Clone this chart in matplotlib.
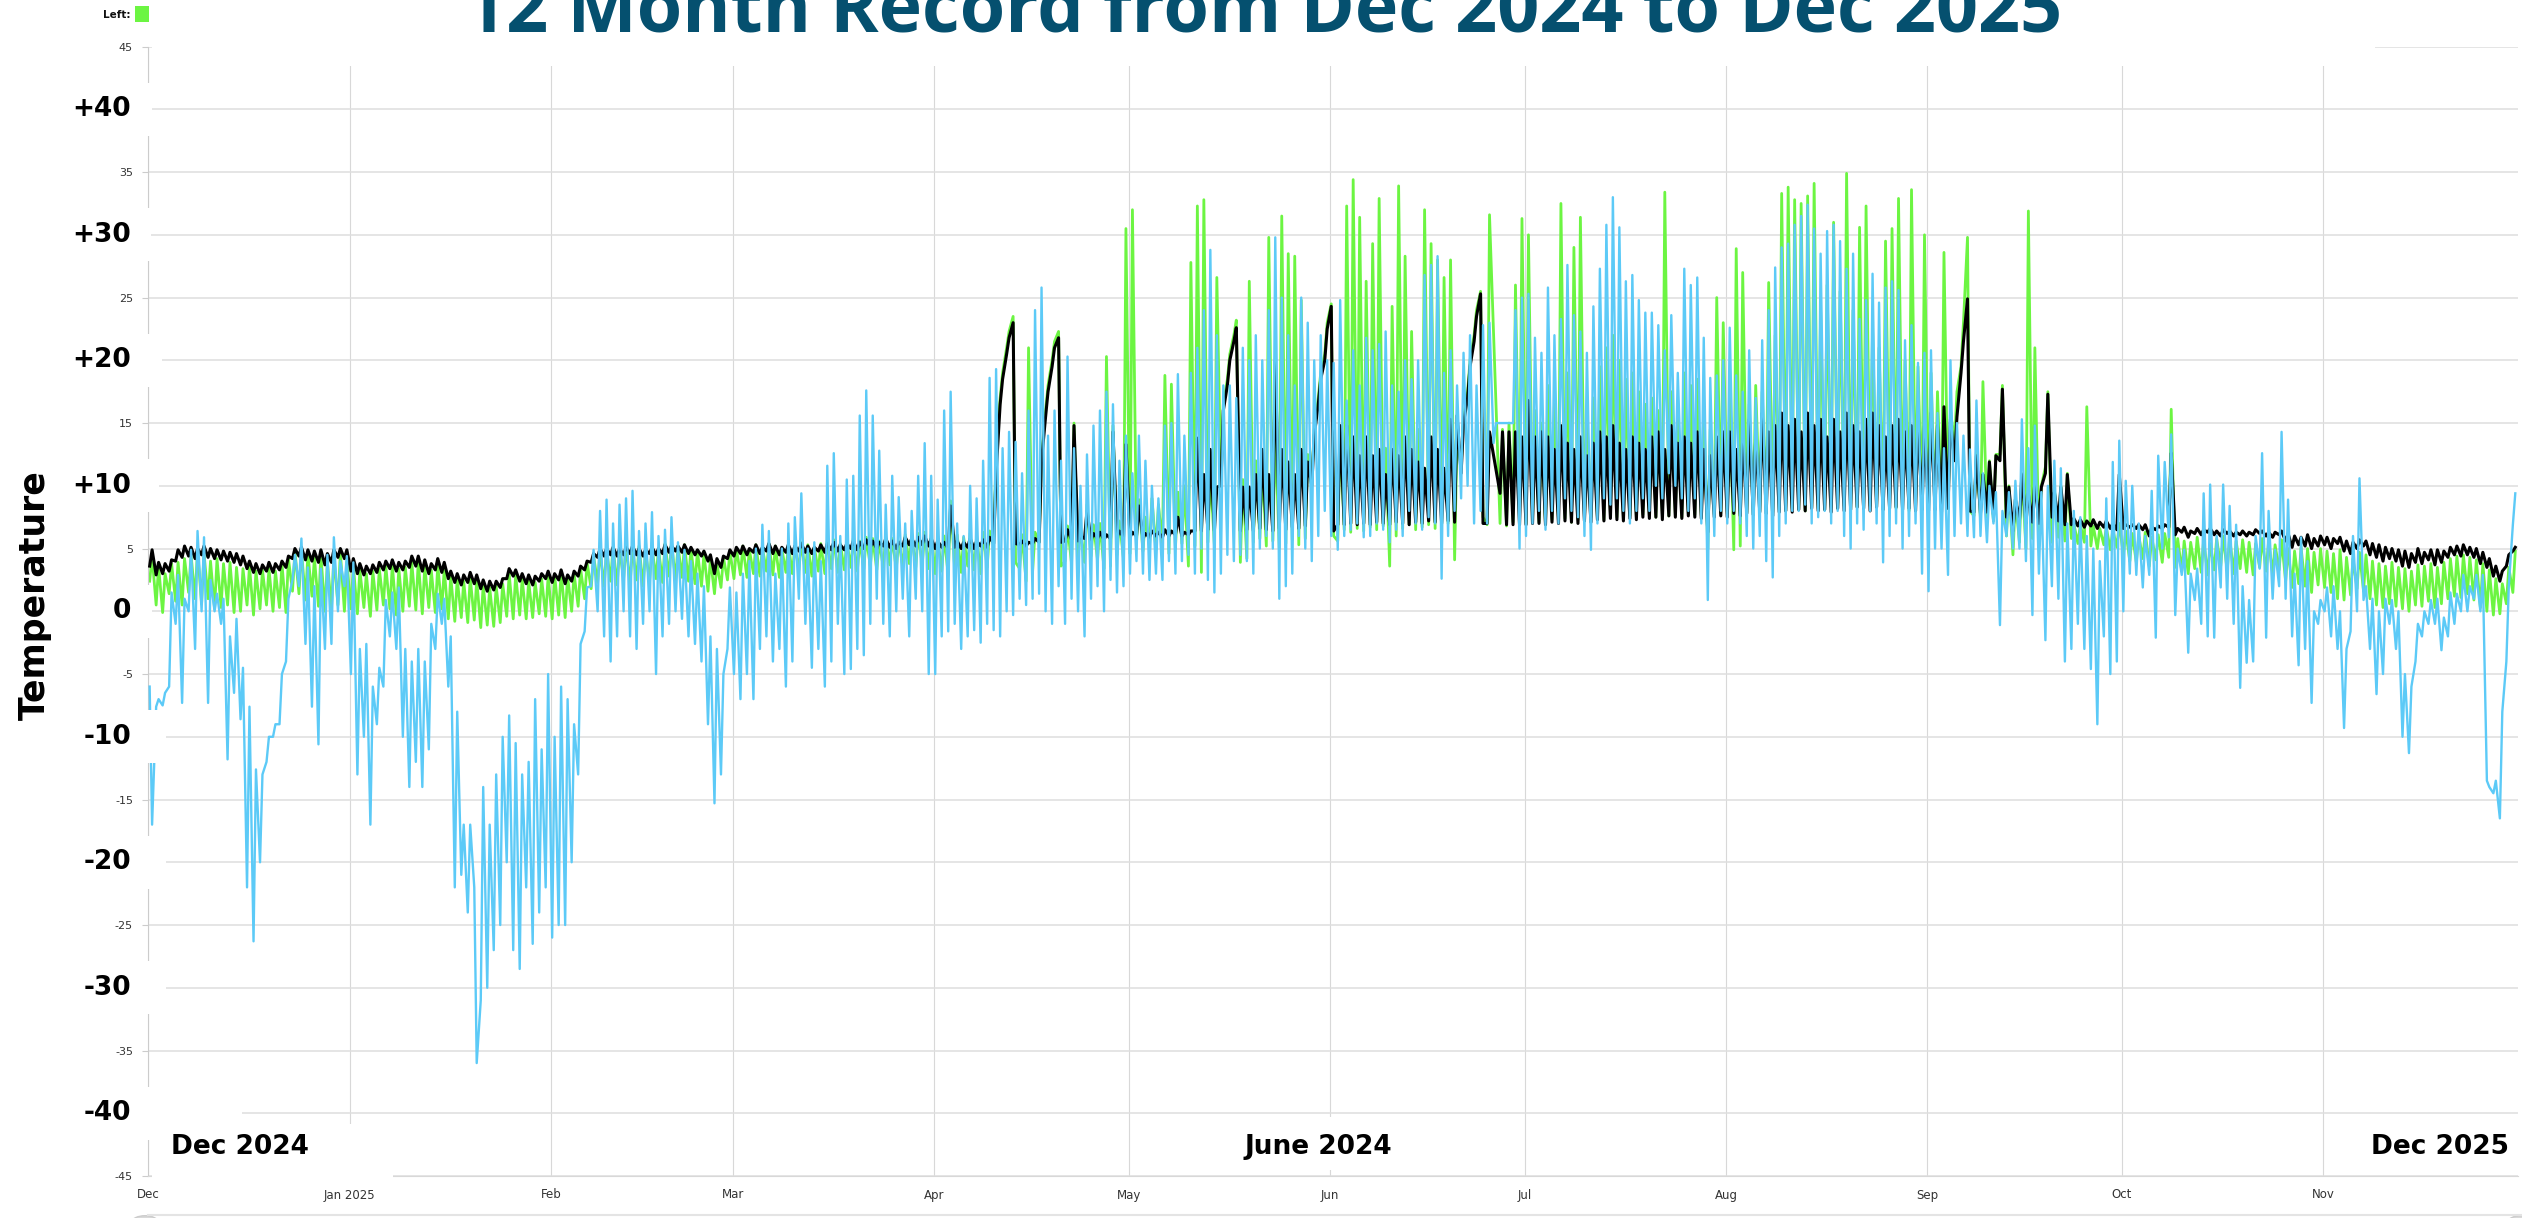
import numpy as np
import matplotlib
matplotlib.use('Agg')
import matplotlib.pyplot as plt
import matplotlib.dates as mdates
from matplotlib.patches import Rectangle, Circle
from matplotlib.lines import Line2D
from matplotlib.transforms import blended_transform_factory

nan = float('nan')

month_starts = ['2024-12-01', '2025-01-01', '2025-02-01', '2025-03-01', '2025-04-01', '2025-05-01',
                '2025-06-01', '2025-07-01', '2025-08-01', '2025-09-01', '2025-10-01', '2025-11-01']
month_labels = ['Dec', 'Jan 2025', 'Feb', 'Mar', 'Apr', 'May', 'Jun', 'Jul', 'Aug', 'Sep', 'Oct', 'Nov']

# two readings a day (about 05:00 and 14:00), given as pairs: morning, afternoon

# outside (light blue)
blue_dec = [-6,-17, -7.6,-7, -7.5,-6.5, -6,1.5, -1,2.9, -7.3,1, 0,4.9, -3,6.4, 0,5.9, -7.3,2.5,
            0,1.4, -1,1, -11.8,-2, -6.5,-0.6, -8.6,-4.5, -22,-7.6, -26.3,-12.6, -20,-13, -12,-10, -10,-9,
            -9,-5, -4,1, 2.5,4.5, 2,5.8, -2.6,3.5, -7.6,2, -10.6,3.4, -3,4.5, -2.6,5.9, 0,4, 2,4.4]
blue_jan = [-5,3.9, -13,-3, -10,-2.6, -17,-6, -9,-4.5, -6,0.9, -2,1.5, -3,1.9, -10,-3, -14,-4,
            -12,-3, -14,-4, -11,-1, -3,1.4, -1,1, -6,-2, -22,-8, -21,-17, -24,-17, -22,-36,
            -31,-14, -30,-17, -27,-13, -25,-10, -20,-8.3, -27,-10.5, -28.5,-13, -22,-12, -26.5,-7, -24,-11,
            -22,-5]
blue_feb = [-26,-10, -25,-6, -25,-7, -20,-9, -13,-2.6, -1.6,1.9, 2,4.9, 0,8, -2,8.9, -4,7,
            -2,8.5, 0,9, -2,9.6, -3,6.4, -1,7, 0,7.9, -5,6, -2,6.5, -1,7.5, 0,5.5,
            -0.6,4.9, -2,4, -2.6,3, -4,2, -9,-2, -15.3,-3, -13,-5, -3,1.9]
blue_mar = [-5,1.5, -7,3, -5,4, -7,5, -3,6.9, -2,6.4, -4,3, -3,5, -6,7, -4,7.5,
            1,9.4, -1,5, -4.5,5.5, -3,4, -6,11.6, -4,12.6, -1,6, -5,10.5, -4.6,10.8, -3,15.6,
            -3.5,17.6, -1,15.6, 1,12.8, -1,8.5, -2,10.8, 0,9.1, 1,7, -2,8, 1,10.8, 0,13.4,
            -5,10.8]
blue_apr = [-5,8.9, -2,16, -1.6,17.5, -1,7, -3,6, -2,10, -1.5,9, -2.5,12, -1,18.6, -1.5,19.3,
            -2,13, 0,14.3, -0.3,13.5, 1,11, 0.5,16, 1,24, 1.4,25.8, 0,14, -1,16, 2,12,
            -1,20.3, 1,13, 0,10, -2,12.5, 1,14.8, 2,16, 0,17.5, 2.5,16.5, 1.5,12, 2,14]
blue_may = [3,11, 4,14, 3,12, 2.5,10, 3,9, 2.5,14.8, 4,15, 3,18.9, 4,14, 4.5,19,
            3,21, 5,24, 2.5,28.8, 1.5,22, 3,18, 4.5,18, 4,17, 4.5,21, 4,20, 3,22,
            5,20, 6,24, 5,29.8, 1,25, 2,22, 3,18, 6,25, 5,23, 4,20, 6,22,
            8,20]
blue_jun = [6,19.8, 4.9,24.8, 6,16.8, 6.5,20.8, 7,18, 5.9,21.8, 6,20.8, 7,21.3, 6.5,22.3, 5.5,18,
            6.5,17.5, 6,20, 8,18.5, 7,20, 6.5,26.8, 7.5,27.6, 7,28.3, 2.6,19, 6,20.8, 8,18,
            9,20.6, 10,22, 7,18, 8,22.8, 7,23, 13.4,15, nan,nan, nan,nan, 15,24, 5,25]
blue_jul = [6,25.3, 7,21.8, 8,20.6, 6.5,25.8, 8,22, 7,23.3, 9,27.6, 8,23.6, 7.5,22.3, 6,20.6,
            4.9,24.3, 7,27.3, 9,30.8, 8.5,33, 9,30.6, 8,26.3, 7,26.8, 8,24.8, 9,23.8, 8,23.8,
            10,22.8, 9,20.8, 11,23.6, 10,19, 9,27.3, 8,26, 9,26.6, 7,21.8, 0.9,18.6, 6,18.8,
            8,20]
blue_aug = [7,22.6, 8,18.8, 7,17.5, 6,20.8, 5,17, 6,21.6, 4,24, 2.7,27.4, 6,29, 7,29.3,
            8,30.8, 8,31.5, 8.5,32.4, 7,30.5, 7.5,28.5, 8,30.3, 7,30.8, 8,29.5, 6,27.3, 5,28.5,
            7,23.3, 6.5,24.8, 8,26.9, 7,24.6, 3.9,25.8, 6,26.3, 7,25.6, 5,21.6, 6,22.8, 7,19.8,
            3,20.6]
blue_sep = [1.6,20.8, 5,15.8, 5,13, 2.9,20, 6,15, 7,14, 6,12.9, 5.9,16.8, 6,11, 5.5,10,
            7,9.5, -1.1,8, 6,9.5, 5,10.4, 5,15.3, 4,13, -0.3,14.8, 3,9.5, -2.3,10, 2,12,
            1,11.4, -4,7, -3,8, -1,7.5, -3,6, -4.6,5, -9,4, -2,9, -5,11.9, -4,13.6]
blue_oct = [0,10.4, 3,10, 2.9,7, 1.9,6, 2.9,9.6, -2.1,12.4, 5,11.9, 5.9,14.1, -0.3,5, 2.9,4.9,
            -3.3,3, 0.9,3.4, -1,9.4, -2,10.1, -2.1,6, 1.9,10.1, 1,8.4, -1,6.9, -6.1,2, -4.1,0.9,
            -4,6, 3.4,12.6, -2.1,8, 1,4.9, 2,14.3, 1,8.9, -2,3, -4.3,5.9, -3,4, -7.3,0,
            -1,0.9]
blue_nov = [0,1.9, -2,2, -3,0, -9.3,-3, -1.6,6, 0,10.6, 0.9,2, -3,1, -6.6,0, -5,1,
            -1,0.9, -3,0, -10,-5, -11.3,-6, -4,-1, -2,0, -1,0.9, -1,1, -3.1,-0.5, -2,1.5,
            -1,1.4, 0,2.9, 0,2, 1,2.9, 0,2.9, -13.5,-14, -14.5,-13.5, -16.5,-8, -4,2, 6.9,9.4]

# black series
black_dec = [3.6,4.9, 2.9,3.9, 3.0,3.8, 3.2,4.1, 4.0,4.9, 4.3,5.2, 4.4,5.1, 4.2,5.0, 4.5,5.2, 4.3,5.0,
             4.2,4.9, 4.1,4.8, 4.0,4.7, 3.9,4.6, 3.7,4.4, 3.4,4.0, 3.1,3.8, 3.0,3.7, 3.2,3.9, 3.1,3.8,
             3.3,4.0, 3.5,4.4, 4.2,5.0, 4.4,5.1, 4.1,4.9, 4.0,4.8, 3.9,4.9, 3.7,4.6, 3.9,4.9, 4.3,5.0,
             4.2,4.9]
black_jan = [3.2,4.2, 3.0,3.8, 2.9,3.6, 3.0,3.7, 3.1,3.9, 3.3,4.0, 3.4,4.1, 3.2,3.9, 3.3,4.0, 3.5,4.4,
             3.6,4.4, 3.2,4.1, 3.0,3.8, 3.3,4.2, 3.1,3.9, 2.6,3.2, 2.3,3.0, 2.1,2.9, 2.3,3.1, 2.2,2.9,
             1.8,2.5, 1.6,2.4, 1.7,2.4, 1.9,2.6, 2.6,3.4, 2.8,3.3, 2.4,3.0, 2.2,2.9, 2.1,2.8, 2.4,3.0,
             2.6,3.2]
black_feb = [2.3,3.0, 2.5,3.3, 2.2,2.9, 2.4,3.2, 2.8,3.6, 3.3,4.0, 3.9,4.6, 4.3,5.0, 4.4,5.0, 4.5,5.1,
             4.4,5.0, 4.5,5.1, 4.6,5.2, 4.5,5.0, 4.4,4.9, 4.6,5.1, 4.5,5.0, 4.6,5.3, 4.7,5.2, 4.8,5.2,
             4.7,5.3, 4.6,5.1, 4.5,4.9, 4.4,4.8, 4.0,4.5, 3.0,4.2, 3.5,4.4, 4.2,4.9]
black_mar = [4.4,5.1, 4.6,5.2, 4.5,5.0, 4.7,5.3, 4.6,5.1, 4.8,5.4, 4.6,5.2, 4.5,5.1, 4.7,5.3, 4.6,5.2,
             4.8,5.4, 4.7,5.2, 4.6,5.1, 4.8,5.3, 4.7,5.4, 4.9,5.5, 4.8,5.3, 4.9,5.4, 5.0,5.6, 4.9,5.5,
             5.0,5.7, 5.1,5.6, 5.0,5.5, 5.2,5.8, 5.1,5.6, 5.0,5.5, 5.2,5.9, 5.3,5.8, 5.2,5.9, 5.3,6.0,
             5.2,5.8]
black_apr = [5.0,5.6, 5.1,5.5, 5.0,8.4, 5.1,5.6, 5.0,5.5, 5.1,5.8, 5.0,5.6, 5.2,5.7, 5.1,5.9, 5.4,11.0,
             16.5,18.5, 20.5,21.8, 23.0,5.4, 5.3,5.6, 5.2,5.5, 5.4,5.8, 5.5,12.0, 15.5,17.5, 19.5,21.0, 21.8,5.5,
             5.6,6.5, 5.7,14.8, 5.6,6.0, 5.8,8.0, 5.7,6.2, 5.8,6.3, 5.7,6.1, 5.8,14.3, 5.9,6.4, 5.9,13.3]
black_may = [5.9,6.3, 6.0,8.4, 5.8,6.2, 5.9,6.4, 6.0,6.3, 5.9,6.5, 6.0,6.4, 6.1,7.5, 6.0,6.3, 6.1,6.4,
             6.4,13.8, 6.4,10.9, 6.5,12.9, 6.4,9.9, 10.0,16.0, 18.0,20.0, 21.5,22.6, 6.4,9.9, 6.5,9.9, 6.4,10.9,
             6.6,12.9, 6.5,10.9, 6.4,20.0, 6.6,12.9, 6.5,11.9, 6.7,10.9, 6.6,12.9, 6.8,11.9, 10.0,14.0, 16.5,18.5,
             20.0,22.5]
black_jun = [24.3,6.4, 6.9,14.8, 6.9,14.8, 7.0,13.9, 6.9,12.4, 7.0,13.9, 6.9,12.4, 7.1,12.9, 7.0,10.9, 6.9,12.9,
             7.1,12.4, 7.0,13.9, 6.9,12.9, 7.1,11.9, 7.0,11.4, 7.2,13.9, 7.1,12.9, 7.0,11.4, 7.2,15.3, 7.1,15.6,
             11.0,15.0, 17.0,19.5, 21.5,23.5, 25.3,7.0, 7.0,14.3, nan,nan, 9.4,14.3, 6.9,14.3, 6.9,14.3, 6.9,13.9]
black_jul = [6.9,16.8, 7.0,13.9, 7.0,14.3, 6.9,13.9, 7.1,12.9, 7.0,14.8, 7.2,13.4, 7.1,12.9, 7.0,13.9, 7.2,12.4,
             7.1,13.4, 7.3,14.3, 7.2,13.9, 7.4,14.8, 7.3,13.4, 7.2,12.9, 7.4,13.9, 7.3,13.4, 7.5,12.9, 7.4,13.9,
             7.5,14.3, 7.3,12.9, 7.6,14.8, 7.5,13.4, 7.4,13.9, 7.6,13.4, 7.5,14.3, 7.4,12.9, 6.3,12.4, 7.5,13.9,
             7.6,14.3]
black_aug = [7.5,14.3, 7.8,12.9, 7.6,13.9, 7.8,15.3, 7.7,13.9, 7.9,15.8, 7.8,14.3, 7.6,14.8, 7.9,15.8, 8.0,14.8,
             7.9,15.3, 8.1,14.3, 8.0,15.8, 8.2,14.8, 8.0,15.3, 8.1,13.9, 7.9,15.3, 8.2,14.3, 8.0,15.8, 8.1,14.8,
             8.3,14.3, 8.2,15.3, 8.0,15.8, 8.3,14.8, 8.1,13.9, 8.2,14.8, 8.3,15.3, 8.1,14.3, 8.2,14.8, 8.0,15.3,
             8.1,14.8]
black_sep = [8.0,15.8, 8.1,14.8, 7.9,16.3, 8.2,15.3, 12.0,15.5, 19.0,21.5, 24.9,8.0, 7.9,12.4, 7.8,10.9, 7.9,11.9,
             7.7,12.4, 12.0,17.7, 7.5,9.9, 6.4,8.9, 7.2,10.9, 7.0,9.4, 7.1,10.4, 7.0,9.9, 11.0,17.3, 7.5,9.5,
             7.2,9.9, 6.9,10.9, 6.9,7.4, 6.8,7.3, 6.7,7.2, 6.8,7.3, 6.6,7.1, 6.7,7.2, 6.6,7.0, 6.5,10.9]
black_oct = [6.6,6.9, 6.7,6.9, 6.6,6.9, 6.5,6.9, 6.0,6.7, 6.5,6.8, 6.6,6.9, 6.7,12.6, 6.1,6.6, 6.3,6.7,
             5.9,6.4, 6.2,6.6, 6.1,6.5, 6.3,6.6, 6.1,6.4, 6.0,6.5, 6.2,6.4, 6.0,6.3, 6.1,6.4, 6.0,6.3,
             6.1,6.5, 6.2,6.4, 6.0,6.3, 5.9,6.3, 6.1,6.4, 5.6,6.2, 5.1,6.0, 5.3,5.9, 5.2,6.1, 5.0,5.8,
             5.2,6.0]
black_nov = [5.3,5.9, 5.0,5.8, 5.4,5.9, 4.8,5.6, 4.6,5.5, 5.0,5.7, 5.2,5.6, 4.5,5.4, 4.3,5.3, 4.0,5.1,
             4.2,5.0, 4.0,4.9, 3.6,4.8, 3.5,4.6, 3.9,5.0, 3.8,4.7, 4.1,4.9, 3.7,4.9, 3.9,4.8, 4.3,5.1,
             4.5,5.2, 4.4,5.3, 4.5,5.1, 4.3,5.0, 3.8,4.7, 3.5,4.2, 2.8,3.6, 2.4,3.2, 3.6,4.5, 4.8,5.1]

# left sensor (green)
green_dec = [2.4,4.4, 0.5,3.6, -0.1,3.0, 1.4,3.8, 0.8,3.9, 0.5,4.2, 1.5,4.5, 1.0,4.9, 0.6,4.6, 1.0,4.0,
             0.2,4.2, 0.3,3.8, 0.5,3.9, -0.1,3.5, 0.0,3.4, 0.5,3.6, -0.3,3.2, 0.2,3.3, 0.5,3.4, 0.0,3.2,
             0.3,3.8, -0.1,4.2, 1.6,4.8, 1.4,4.9, 0.9,4.6, 1.2,4.3, 0.4,4.5, 0.0,4.0, 0.2,4.4, 0.5,4.7,
             0.0,4.0]
green_jan = [0.2,3.6, -0.2,3.3, 0.3,3.0, -0.4,3.2, 0.1,3.4, 0.5,3.6, 0.2,3.7, -0.3,3.4, 0.0,3.5, 0.4,3.9,
             0.1,4.0, -0.2,3.6, 0.3,3.3, -0.1,3.7, 0.2,3.4, -0.6,2.8, -0.8,2.6, -0.5,2.4, -0.9,2.7, -0.7,2.5,
             -1.3,2.1, -1.1,1.9, -1.2,2.0, -0.9,2.2, -0.4,3.0, -0.6,2.9, -0.3,2.6, -0.6,2.4, -0.5,2.3, -0.2,2.6,
             -0.4,2.8]
green_feb = [-0.6,2.9, -0.3,3.2, -0.5,2.8, 0.0,3.0, 0.4,3.4, 1.0,3.9, 1.8,4.4, 2.3,4.8, 2.0,4.9, 2.4,5.1,
             2.1,4.9, 2.6,5.3, 2.2,5.0, 2.5,5.2, 2.0,4.8, 2.4,5.1, 2.6,5.0, 2.3,5.4, 2.8,5.5, 2.5,5.2,
             2.7,5.3, 2.4,5.0, 2.2,4.8, 2.0,4.6, 1.6,4.2, 1.4,3.8, 1.9,4.3, 2.5,4.8]
green_mar = [2.6,5.0, 2.9,5.2, 2.7,4.9, 3.0,5.3, 2.8,5.1, 3.2,5.4, 2.9,5.2, 2.7,5.0, 3.1,5.3, 3.0,5.2,
             3.3,5.5, 3.1,5.3, 2.8,5.1, 3.2,5.4, 3.0,5.6, 3.4,5.7, 3.1,5.4, 3.3,5.6, 3.5,5.8, 3.2,5.6,
             3.4,5.9, 3.6,5.8, 3.3,5.6, 3.5,6.0, 3.7,5.8, 3.4,5.6, 3.6,6.1, 3.8,6.0, 3.5,6.2, 3.7,6.3,
             3.4,6.1]
green_apr = [3.0,5.8, 3.2,6.0, 2.9,8.8, 3.4,6.1, 3.1,5.9, 3.6,6.2, 3.3,6.0, 3.0,6.3, 3.5,6.4, 5.4,12.5,
             17.0,19.0, 21.0,22.3, 23.5,3.9, 3.4,6.1, 2.4,21.0, 3.2,6.3, 5.5,12.5, 16.0,18.0, 20.0,21.5, 22.3,3.6,
             4.0,6.8, 3.8,15.0, 4.2,6.6, 3.9,8.5, 4.4,6.9, 4.1,7.0, 3.4,20.3, 3.6,14.8, 4.5,7.2, 4.2,30.5]
green_may = [4.6,32.0, 5.5,8.9, 4.8,7.5, 5.2,9.0, 4.9,8.5, 5.3,18.8, 4.6,18.1, 5.0,9.5, 5.4,10.0, 3.6,27.8,
             5.2,32.3, 3.1,32.8, 5.5,11.0, 5.3,26.6, 10.5,16.5, 18.5,20.5, 22.0,23.2, 3.9,10.5, 4.2,26.3, 5.5,12.0,
             5.8,11.5, 5.2,29.8, 5.6,14.0, 5.0,31.5, 5.4,28.5, 5.7,28.3, 5.3,24.8, 5.8,12.5, 10.5,14.5, 17.0,19.0,
             20.5,23.0]
green_jun = [24.5,6.0, 5.6,14.0, 6.5,32.3, 6.3,34.4, 6.6,31.4, 6.4,26.3, 6.7,29.3, 6.5,32.9, 6.8,13.0, 3.6,24.3,
             6.0,33.9, 6.6,28.3, 6.9,22.3, 6.5,14.5, 6.7,32.0, 6.9,29.3, 6.6,28.0, 6.8,26.6, 7.0,28.0, 4.1,14.0,
             11.5,15.5, 17.5,20.0, 22.0,24.0, 25.5,7.5, 6.9,31.6, nan,nan, 7.0,14.5, 6.8,15.0, 7.1,26.0, 6.9,31.3]
green_jul = [7.0,30.0, 7.2,16.0, 7.1,15.0, 6.9,18.0, 7.3,16.5, 7.2,32.5, 7.4,19.0, 7.1,29.0, 7.3,31.4, 7.2,15.5,
             7.5,17.0, 7.4,19.5, 7.3,21.0, 7.6,22.0, 7.5,20.0, 7.4,18.5, 7.6,19.0, 7.5,17.5, 7.7,16.5, 7.6,17.0,
             7.5,16.0, 7.8,33.4, 7.6,17.5, 7.7,15.5, 7.5,19.0, 7.8,18.0, 7.7,18.5, 7.6,16.0, 5.0,14.5, 7.7,25.0,
             7.8,23.0]
green_aug = [7.8,17.0, 4.9,28.9, 5.2,27.0, 7.9,16.5, 7.7,18.0, 8.0,17.5, 7.8,26.2, 7.9,22.0, 8.1,33.3, 8.0,33.8,
             8.2,32.8, 8.1,32.5, 8.0,33.1, 8.3,34.1, 8.2,24.0, 8.1,26.0, 8.3,31.0, 8.2,25.5, 8.4,34.9, 8.1,24.0,
             8.3,30.6, 8.2,32.3, 8.4,22.5, 8.3,21.0, 8.1,29.5, 8.4,30.5, 8.2,32.9, 8.3,20.0, 8.0,33.6, 8.2,19.5,
             8.1,30.0]
green_sep = [8.0,19.0, 8.1,17.5, 7.9,28.6, 8.2,16.0, 13.5,17.5, 19.5,23.0, 29.8,8.0, 7.6,12.8, 7.4,18.3, 7.5,12.0,
             7.2,12.5, 12.5,18.0, 6.0,10.0, 4.5,9.0, 5.5,11.0, 5.0,31.9, 5.8,21.0, 5.2,10.0, 11.5,17.5, 5.5,9.8,
             5.9,10.0, 5.6,11.0, 5.8,7.0, 5.4,6.9, 5.5,16.3, 5.2,6.8, 5.0,6.6, 5.3,6.7, 4.9,6.5, 5.1,7.0]
green_oct = [4.5,6.4, 4.0,6.2, 3.9,6.0, 4.2,6.3, 3.6,5.9, 4.1,6.1, 3.9,6.2, 4.3,16.1, 3.5,5.8, 3.2,5.6,
             3.0,5.5, 3.4,5.9, 3.1,5.7, 2.9,5.4, 3.3,5.8, 3.6,6.0, 3.2,5.9, 3.0,5.6, 3.4,5.7, 3.1,5.5,
             2.9,5.4, 3.5,5.8, 3.2,5.6, 3.0,5.3, 3.3,5.7, 2.4,5.0, 1.9,4.8, 2.2,5.1, 2.0,5.0, 1.5,4.7,
             2.1,5.0]
green_nov = [1.9,4.8, 1.5,4.6, 1.0,4.9, 0.9,4.3, 1.3,4.2, 1.8,4.7, 1.6,4.5, 1.0,4.0, 0.5,3.8, 0.3,3.6,
             0.6,3.9, 0.4,3.5, 0.2,3.4, 0.0,3.2, 0.5,3.7, 0.4,3.6, 0.8,3.8, 0.3,3.5, 0.6,3.9, 1.0,4.2,
             1.2,4.4, 1.1,4.5, 1.4,4.3, 0.9,4.1, 0.3,3.8, 0.0,3.3, -0.3,2.6, -0.2,2.2, 0.6,3.5, 1.5,4.8]

blue = [blue_dec, blue_jan, blue_feb, blue_mar, blue_apr, blue_may, blue_jun, blue_jul, blue_aug, blue_sep, blue_oct, blue_nov]
black = [black_dec, black_jan, black_feb, black_mar, black_apr, black_may, black_jun, black_jul, black_aug, black_sep, black_oct, black_nov]
green = [green_dec, green_jan, green_feb, green_mar, green_apr, green_may, green_jun, green_jul, green_aug, green_sep, green_oct, green_nov]


def series(months):
    t, v = [], []
    for start, vals in zip(month_starts, months):
        d0 = mdates.datestr2num(start)
        for i in range(len(vals) // 2):
            t += [d0 + i + 5 / 24, d0 + i + 14 / 24]
            v += vals[2 * i:2 * i + 2]
    t, v = np.array(t), np.array(v, dtype=float)
    ok = np.isfinite(v)
    return t[ok], v[ok]


W, H = 2522, 1218
fig = plt.figure(figsize=(W / 100, H / 100), dpi=100)
ax = fig.add_axes([148.3 / W, 1 - 1176 / H, (2518 - 148.3) / W, (1176 - 46.6) / H])

t, v = series(green)
ax.plot(t, v, color='#6cf542', lw=2.0, zorder=2)
t, v = series(black)
ax.plot(t, v, color='black', lw=2.2, zorder=3)
t, v = series(blue)
ax.plot(t, v, color='#5ccaf7', lw=1.7, zorder=4)

ax.set_xlim(mdates.datestr2num('2024-12-01'), mdates.datestr2num('2025-12-01'))
ax.set_ylim(-45, 45)
ax.set_xticks([mdates.datestr2num(s) for s in month_starts])
ax.set_xticklabels(month_labels)
yt = list(range(-45, 46, 5))
ax.set_yticks(yt)
ax.set_yticklabels([str(y) if y % 10 else '' for y in yt])
ax.tick_params(axis='x', length=0, pad=9, labelsize=8.5, labelcolor='#333333')
ax.tick_params(axis='y', length=4, width=0.8, color='#cccccc', pad=7, labelsize=8, labelcolor='#333333')
ax.grid(axis='y', color='#dedede', lw=1.1)
ax.grid(axis='x', color='#d8d8d8', lw=0.8)
ax.set_axisbelow(True)
for s in ['top', 'right']:
    ax.spines[s].set_visible(False)
ax.spines['left'].set_color('#cccccc')
ax.spines['bottom'].set_color('#d8d8d8')

# pasted-on labels with white backgrounds
bt = blended_transform_factory(fig.transFigure, ax.transData)
big = [(40, '+40', 152), (30, '+30', 151), (20, '+20', 162), (10, '+10', 159), (0, '0', 152),
       (-10, '-10', 166), (-20, '-20', 166), (-30, '-30', 166), (-40, '-40', 242)]
for val, lab, x1 in big:
    fig.add_artist(Rectangle((62 / W, val - 2.1), (x1 - 62) / W, 4.2, transform=bt,
                             fc='white', ec='none', zorder=5))
    fig.text(131 / W, val, lab, transform=bt, ha='right', va='center',
             fontsize=19, fontweight='bold', color='black', zorder=6)

fig.text(35 / W, 1 - 595 / H, 'Temperature', rotation=90, ha='center', va='center',
         fontsize=25, fontweight='bold', color='black')

for x0, x1, y0, y1, xt, lab, ha in [(152, 393, 1124, 1180, 171, 'Dec 2024', 'left'),
                                    (1230, 1410, 1117, 1170, 1318, 'June 2024', 'center'),
                                    (2365, 2515, 1120, 1170, 2440, 'Dec 2025', 'center')]:
    fig.add_artist(Rectangle((x0 / W, 1 - y1 / H), (x1 - x0) / W, (y1 - y0) / H,
                             transform=fig.transFigure, fc='white', ec='none', zorder=5))
    fig.text(xt / W, 1 - 1147 / H, lab, ha=ha, va='center', fontsize=19,
             fontweight='bold', color='black', zorder=6)

# title strip (the title sits partly above the top edge, as in the source image)
fig.add_artist(Rectangle((152 / W, 1 - 66 / H), (2375 - 152) / W, 66 / H,
                         transform=fig.transFigure, fc='white', ec='none', zorder=5))
fig.text(1263 / W, 1 - 32 / H, '12 Month Record from Dec 2024 to Dec 2025', ha='center',
         va='baseline', fontsize=53, fontweight='bold', family='Open Sans', color='#05506f', zorder=6)

fig.text(103 / W, 1 - 15 / H, 'Left:', ha='left', va='center', fontsize=7.5,
         fontweight='bold', color='#111111')
fig.add_artist(Rectangle((135 / W, 1 - 22 / H), 14 / W, 16 / H, transform=fig.transFigure,
                         fc='#6cf542', ec='none'))

# navigator strip at the bottom
fig.add_artist(Line2D([148 / W, 1], [1 - 1215 / H, 1 - 1215 / H], transform=fig.transFigure,
                      color='#e4e4e4', lw=1.5))
for cx in [145, 2521]:
    fig.add_artist(Circle((cx / W, 1 - 1222 / H), 13 / W, transform=fig.transFigure,
                          fc='#d9d9d9', ec='#cccccc'))

fig.savefig('out.png', dpi=100)
